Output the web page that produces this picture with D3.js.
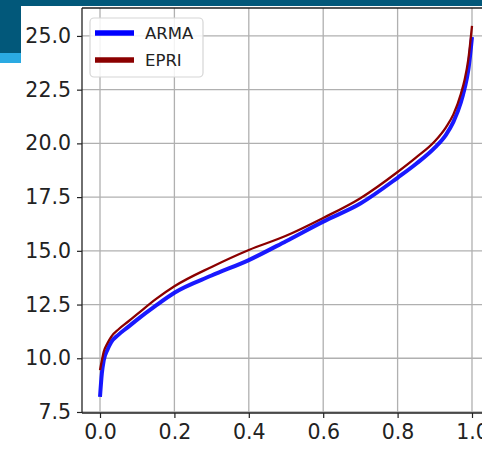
<!DOCTYPE html>
<html><head><meta charset="utf-8">
<script src="https://cdn.jsdelivr.net/npm/d3@7"></script>
<style>html,body{margin:0;padding:0;background:#fff;overflow:hidden}</style>
</head><body>
<svg id="c" width="482" height="449"></svg>
<script>
const quantiles = [0, 0.005, 0.01, 0.02, 0.03, 0.05, 0.075, 0.1, 0.15, 0.2, 0.3, 0.4, 0.5, 0.6, 0.7, 0.8, 0.85, 0.9, 0.93, 0.95, 0.97, 0.98, 0.99, 1.0];
const armaValues = [8.2, 9.3, 9.9, 10.4, 10.75, 11.1, 11.45, 11.8, 12.45, 13.05, 13.85, 14.57, 15.45, 16.36, 17.2, 18.4, 19.05, 19.8, 20.4, 21.0, 21.9, 22.55, 23.4, 24.95];
const epriValues = [9.45, 9.9, 10.3, 10.7, 11.0, 11.35, 11.7, 12.05, 12.75, 13.35, 14.25, 15.04, 15.7, 16.53, 17.45, 18.67, 19.35, 20.1, 20.75, 21.35, 22.3, 22.95, 23.9, 25.47];
const xTicks = [0.0, 0.2, 0.4, 0.6, 0.8, 1.0];
const yTicks = [7.5, 10.0, 12.5, 15.0, 17.5, 20.0, 22.5, 25.0];
const seriesNames = ["ARMA", "EPRI"];

const svg = d3.select("#c");
// slide background decoration
svg.append("rect").attr("x",0).attr("y",0).attr("width",482).attr("height",6).attr("fill","#02587a");
svg.append("rect").attr("x",0).attr("y",0).attr("width",21).attr("height",53).attr("fill","#02587a");
svg.append("rect").attr("x",0).attr("y",53).attr("width",21).attr("height",10).attr("fill","#2aaae2");

const L = 82, R = 490.6, T = 8, B = 413;
const x = d3.scaleLinear().domain([-0.0484, 1.05]).range([L, R]);
const y = d3.scaleLinear().domain([7.453, 26.3]).range([B, T]);

const g = svg.append("g");
// grid
g.selectAll(".gx").data(xTicks).enter().append("line")
  .attr("x1", d=>x(d)).attr("x2", d=>x(d)).attr("y1", T).attr("y2", B)
  .attr("stroke","#b0b0b0").attr("stroke-width",1.3);
g.selectAll(".gy").data(yTicks).enter().append("line")
  .attr("x1", L).attr("x2", R).attr("y1", d=>y(d)).attr("y2", d=>y(d))
  .attr("stroke","#b0b0b0").attr("stroke-width",1.3);

const line = d3.line().x((d,i)=>x(quantiles[i])).y(d=>y(d)).curve(d3.curveMonotoneX);
g.append("path").datum(armaValues).attr("d", line).attr("fill","none")
  .attr("stroke","#0000ff").attr("stroke-width",4).attr("stroke-opacity",0.9).attr("stroke-linejoin","round");
g.append("path").datum(epriValues).attr("d", line).attr("fill","none")
  .attr("stroke","#8b0000").attr("stroke-width",2.3).attr("stroke-linejoin","round");

// axes
const xAxis = d3.axisBottom(x).tickValues(xTicks).tickFormat(d3.format(".1f")).tickSize(5).tickPadding(6);
const yAxis = d3.axisLeft(y).tickValues(yTicks).tickFormat(d3.format(".1f")).tickSize(5).tickPadding(6);
const gx = svg.append("g").attr("transform",`translate(0,${B})`).call(xAxis);
const gy = svg.append("g").attr("transform",`translate(${L},0)`).call(yAxis);
[gx, gy].forEach(a=>{
  a.select(".domain").remove();
  a.selectAll(".tick line").attr("stroke","#222").attr("stroke-width",1.2);
  a.selectAll(".tick text").attr("fill","#222").style("font-family","DejaVu Sans").style("font-size","20.5px");
});
// spines
svg.append("line").attr("x1",L).attr("x2",L).attr("y1",T).attr("y2",B).attr("stroke","#222").attr("stroke-width",1.3);
svg.append("line").attr("x1",L).attr("x2",482).attr("y1",B).attr("y2",B).attr("stroke","#222").attr("stroke-width",1.3);
svg.append("line").attr("x1",L).attr("x2",482).attr("y1",T).attr("y2",T).attr("stroke","#222").attr("stroke-width",1.3);

// legend
const lg = svg.append("g");
lg.append("rect").attr("x",90).attr("y",18).attr("width",113).attr("height",59).attr("rx",4)
  .attr("fill","#fff").attr("fill-opacity",0.85).attr("stroke","#d6d6d6").attr("stroke-width",1.2);
const colors = ["#0000ff","#8b0000"];
seriesNames.forEach((n,i)=>{
  const yy = 33 + i*27;
  lg.append("line").attr("x1",95).attr("x2",134).attr("y1",yy).attr("y2",yy)
    .attr("stroke",colors[i]).attr("stroke-width",5.5);
  lg.append("text").attr("x",145).attr("y",yy+6).text(n)
    .attr("fill","#222").style("font-family","DejaVu Sans").style("font-size","16.5px");
});
</script>
</body></html>
